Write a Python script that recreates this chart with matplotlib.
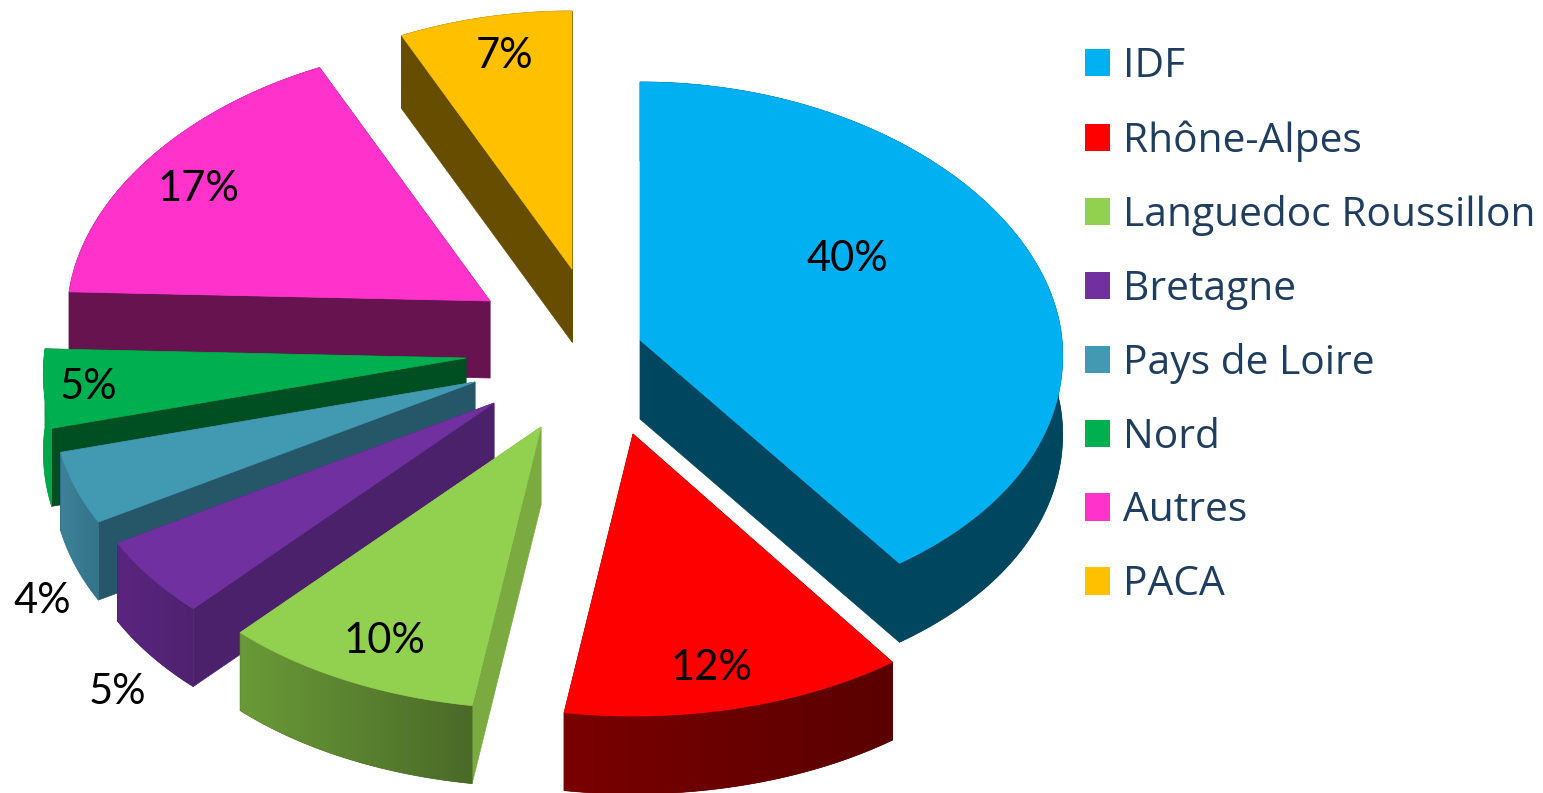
import numpy as np
import matplotlib
matplotlib.use('Agg')
import matplotlib.pyplot as plt
from matplotlib.colors import to_rgb
from matplotlib.patches import Patch, Polygon

# Chart data
regions = ['IDF', 'Rhône-Alpes', 'Languedoc Roussillon', 'Bretagne',
           'Pays de Loire', 'Nord', 'Autres', 'PACA']
shares = [40, 12, 10, 5, 4, 5, 17, 7]

# Colours: top face, radial side, outer rim (left end, right end)
top_colors = ['#00B0F0', '#FF0000', '#92D050', '#7030A0', '#4299B2', '#00B050', '#FF33CC', '#FFC000']
side_colors = ['#00465F', '#660000', '#7AAA40', '#4C216C', '#265768', '#004F23', '#66134F', '#664D00']
rim_left = ['#00465F', '#7A0000', '#6A9A38', '#5A2580', '#3D8199', '#00A84B', '#66134F', '#664D00']
rim_right = ['#00465F', '#5A0000', '#4A6A28', '#4F2270', '#347389', '#00A84B', '#66134F', '#664D00']

# Layout, in pixels of the picture
apex_x = [640, 633, 541, 494, 475, 466, 490, 572]
apex_y = [340, 434, 427, 403, 382, 358, 301, 269]
depths = [79, 78, 78, 78, 78, 78, 77, 73]
front_ry = [276, 282, 282, 282, 282, 282, 282, 282]
label_x = [847, 711, 384, 117, 42, 88, 198, 505]
label_y = [259, 668, 641, 692, 601, 387, 189, 56]
draw_order = [7, 6, 5, 4, 3, 2, 1, 0]

# Small angle shift (degrees) from the 3D projection of the original
warp_at = [0, 144, 187, 223, 241, 255, 274, 320, 360]
warp_by = [0, 0, 1.7, 0, -1, 0, -1.6, 0, 0]

plt.rcParams['font.family'] = ['Lato', 'DejaVu Sans']

fig = plt.figure(figsize=(15.43, 7.93), dpi=100)
ax = fig.add_axes([0, 0, 1, 1])
ax.axis('off')


def outer_edge(t, ry_front):
    # Ellipse seen in perspective, the front half is larger than the back
    t = t + np.radians(np.interp(np.degrees(t), warp_at, warp_by))
    c = np.cos(t)
    rx = 422 - 24 * c
    ry = np.where(c > 0, 258, ry_front)
    return rx * np.sin(t), -ry * c


bounds = np.cumsum([0] + shares) / sum(shares) * 2 * np.pi

z = 1
for i in draw_order:
    t = np.linspace(bounds[i], bounds[i + 1], 120)
    dx, dy = outer_edge(t, front_ry[i])
    x = apex_x[i] + dx
    y = apex_y[i] + dy
    d = depths[i]

    # the two radial sides
    for k in (0, -1):
        ax.add_patch(Polygon([(apex_x[i], apex_y[i]), (x[k], y[k]), (x[k], y[k] + d),
                              (apex_x[i], apex_y[i] + d)],
                             facecolor=side_colors[i], edgecolor=side_colors[i], lw=0.5, zorder=z))
    z += 1

    # outer rim, shaded left to right
    rim = np.column_stack([np.r_[x, x[::-1]], np.r_[y, y[::-1] + d]])
    rim_patch = Polygon(rim, facecolor=rim_right[i], edgecolor=rim_right[i], lw=0.5, zorder=z)
    ax.add_patch(rim_patch)
    z += 1
    ramp = np.linspace(to_rgb(rim_left[i]), to_rgb(rim_right[i]), 200)[np.newaxis, :, :]
    im = ax.imshow(ramp, extent=(x.min(), x.max(), y.max() + d, y.min()), aspect='auto', zorder=z)
    im.set_clip_path(rim_patch)
    z += 1

    # top face
    ax.add_patch(Polygon(np.column_stack([np.r_[apex_x[i], x], np.r_[apex_y[i], y]]),
                         facecolor=top_colors[i], edgecolor=top_colors[i], lw=0.5, zorder=z))
    z += 1

ax.set_xlim(0, 1543)
ax.set_ylim(793, 0)

for i, v in enumerate(shares):
    ax.text(label_x[i], label_y[i], f'{v}%', fontsize=30, color='black', ha='center', va='center', zorder=z)

handles = [Patch(facecolor=c, edgecolor='none', label=r) for c, r in zip(top_colors, regions)]
ax.legend(handles=handles, loc='upper left', bbox_to_anchor=(1085 / 1543, 1 - 46.5 / 793),
          frameon=False, labelcolor='#1F3D5F', prop={'family': 'Open Sans', 'size': 29.3},
          handlelength=0.614, handleheight=0.663, handletextpad=0.32, labelspacing=0.817,
          borderpad=0, borderaxespad=0)

fig.savefig('out.png', dpi=100)
